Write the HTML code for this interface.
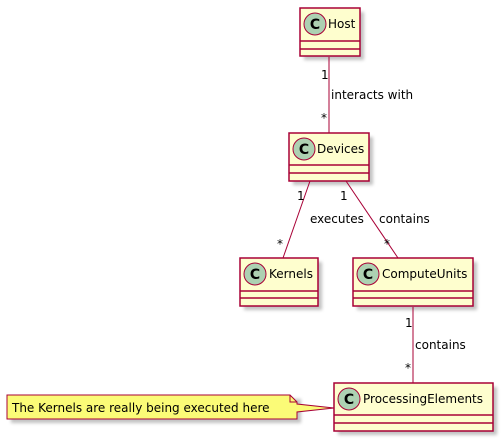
<!DOCTYPE html>
<html><head><style>
html,body{margin:0;padding:0;background:#fff;width:503px;height:441px;overflow:hidden}
text{font-family:"DejaVu Sans","Liberation Sans",sans-serif}
</style></head><body>
<svg width="503" height="441" xmlns="http://www.w3.org/2000/svg">
<defs><filter id="s" x="-10%" y="-10%" width="130%" height="140%"><feGaussianBlur stdDeviation="1.5"/></filter></defs>
<g fill="#999" opacity="0.6" filter="url(#s)">
<rect x="304" y="12" width="60" height="48"/>
<rect x="293" y="137" width="80" height="48"/>
<rect x="244" y="262" width="78" height="48"/>
<rect x="357" y="262" width="120" height="48"/>
<rect x="338" y="387" width="159" height="48"/>
<rect x="11" y="399" width="290" height="24"/>
</g>
<g stroke="#A80036" stroke-width="1" fill="none">
<line x1="329" y1="57" x2="329" y2="133"/>
<line x1="310" y1="181" x2="283" y2="258"/>
<line x1="346" y1="181" x2="398" y2="258"/>
<line x1="413" y1="307" x2="413" y2="383"/>
</g>
<g stroke="#A80036" stroke-width="1.5" fill="#FEFECE">
<rect x="300" y="8" width="60" height="48"/>
<line x1="300" y1="41" x2="360" y2="41"/><line x1="300" y1="49" x2="360" y2="49"/>
<rect x="289" y="133" width="80" height="48"/>
<line x1="289" y1="165" x2="369" y2="165"/><line x1="289" y1="173" x2="369" y2="173"/>
<rect x="240" y="258" width="78" height="48"/>
<line x1="240" y1="291" x2="318" y2="291"/><line x1="240" y1="298" x2="318" y2="298"/>
<rect x="353" y="258" width="120" height="48"/>
<line x1="353" y1="291" x2="473" y2="291"/><line x1="353" y1="298" x2="473" y2="298"/>
<rect x="334" y="383" width="159" height="48"/>
<line x1="334" y1="415" x2="493" y2="415"/><line x1="334" y1="423" x2="493" y2="423"/>
</g>
<path d="M7,395 L290,395 L297,402 L297,404 L334,408 L297,412 L297,419 L7,419 Z" fill="#FBFB77" stroke="#A80036" stroke-width="1"/>
<path d="M290,395 L290,402 L297,402" fill="none" stroke="#A80036" stroke-width="1"/>
<g fill="#ADD1B2" stroke="#A80036" stroke-width="1">
<circle cx="315" cy="24" r="11"/>
<circle cx="304" cy="149" r="11"/>
<circle cx="255" cy="274" r="11"/>
<circle cx="368" cy="274" r="11"/>
<circle cx="349" cy="399" r="11"/>
</g>
<g font-size="14" font-weight="bold" text-anchor="middle" fill="#000" font-family="Liberation Sans">
<text x="315" y="29">C</text><text x="304" y="154">C</text><text x="255" y="279">C</text><text x="368" y="279">C</text><text x="349" y="404">C</text>
</g>
<g font-size="12" fill="#000">
<text x="328" y="28">Host</text>
<text x="317" y="153">Devices</text>
<text x="269" y="278">Kernels</text>
<text x="382" y="278">ComputeUnits</text>
<text x="363" y="403">ProcessingElements</text>
<text x="12" y="412">The Kernels are really being executed here</text>
<text x="331" y="99">interacts with</text>
<text x="310" y="223">executes</text>
<text x="379" y="223">contains</text>
<text x="415" y="349">contains</text>
<text x="321" y="79">1</text>
<text x="321" y="122">*</text>
<text x="297" y="200">1</text>
<text x="277" y="248">*</text>
<text x="340" y="200">1</text>
<text x="384" y="248">*</text>
<text x="405" y="327">1</text>
<text x="405" y="372">*</text>
</g>
</svg>
</body></html>
